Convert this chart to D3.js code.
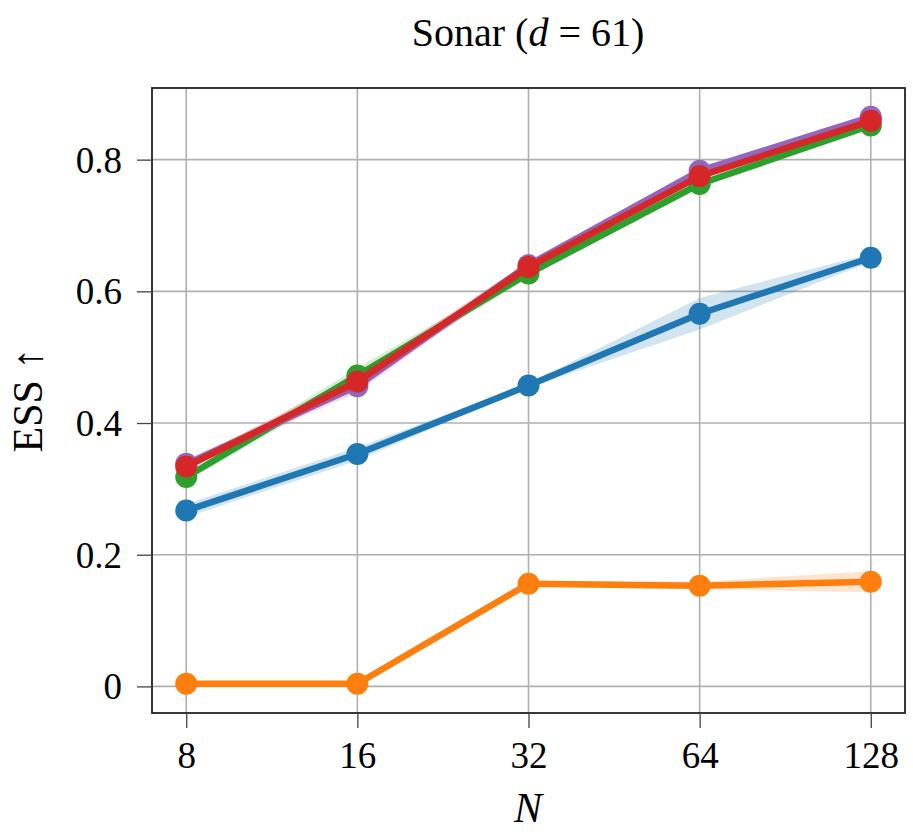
<!DOCTYPE html>
<html>
<head>
<meta charset="utf-8">
<script src="https://cdn.jsdelivr.net/npm/d3@7"></script>
<style>
  body { margin: 0; background: #fff; }
  text { font-family: "Liberation Serif", "DejaVu Serif", serif; fill: #000; }
</style>
</head>
<body>
<div id="chart"></div>
<script>
// data
var Ns = [8, 16, 32, 64, 128];
var seriesNames = ["blue", "orange", "green", "purple", "red"];
var colors = ["#1f77b4", "#ff7f0e", "#2ca02c", "#9467bd", "#d62728"];
var blueVals   = [0.267, 0.353, 0.457, 0.566, 0.651];
var orangeVals = [0.004, 0.004, 0.156, 0.153, 0.159];
var greenVals  = [0.318, 0.472, 0.627, 0.763, 0.852];
var purpleVals = [0.338, 0.456, 0.640, 0.783, 0.865];
var redVals    = [0.334, 0.463, 0.637, 0.775, 0.859];
// half-width of shaded band
var blueErr   = [0.010, 0.010, 0.003, 0.024, 0.006];
var orangeErr = [0.003, 0.003, 0.004, 0.006, 0.016];
var greenErr  = [0.006, 0.012, 0.006, 0.005, 0.004];
var purpleErr = [0.006, 0.010, 0.006, 0.005, 0.004];
var redErr    = [0.006, 0.010, 0.008, 0.005, 0.004];
var yTicks = [0, 0.2, 0.4, 0.6, 0.8];

var allVals = [blueVals, orangeVals, greenVals, purpleVals, redVals];
var allErr = [blueErr, orangeErr, greenErr, purpleErr, redErr];

var width = 913, height = 834;
// plot box (window.top is reserved, so prefixed names)
var pLeft = 152, pTop = 88, pRight = 905, pBottom = 713;

var svg = d3.select("#chart").append("svg")
    .attr("width", width)
    .attr("height", height);

var x = d3.scaleLog().base(2)
    .domain([Math.pow(2, 2.8), Math.pow(2, 7.2)])
    .range([pLeft, pRight]);
var y = d3.scaleLinear()
    .domain([-0.0404, 0.9088])
    .range([pBottom, pTop]);

// grid
var grid = svg.append("g").attr("stroke", "#b0b0b0").attr("stroke-width", 1.6);
grid.selectAll(".vx").data(Ns).enter().append("line")
    .attr("x1", d => x(d)).attr("x2", d => x(d))
    .attr("y1", pTop).attr("y2", pBottom);
grid.selectAll(".hy").data(yTicks).enter().append("line")
    .attr("y1", d => y(d)).attr("y2", d => y(d))
    .attr("x1", pLeft).attr("x2", pRight);

var line = d3.line().x(d => x(d.n)).y(d => y(d.v));
var area = d3.area().x(d => x(d.n)).y0(d => y(d.v - d.e)).y1(d => y(d.v + d.e));

var plot = svg.append("g");
for (var s = 0; s < allVals.length; s++) {
    var pts = Ns.map(function (n, i) { return {n: n, v: allVals[s][i], e: allErr[s][i]}; });
    plot.append("path").datum(pts)
        .attr("d", area)
        .attr("fill", colors[s])
        .attr("fill-opacity", 0.2);
    plot.append("path").datum(pts)
        .attr("d", line)
        .attr("fill", "none")
        .attr("stroke", colors[s])
        .attr("stroke-width", 6.5)
        .attr("stroke-linejoin", "round");
    plot.selectAll(".m" + s).data(pts).enter().append("circle")
        .attr("cx", d => x(d.n))
        .attr("cy", d => y(d.v))
        .attr("r", 11)
        .attr("fill", colors[s]);
}

// frame
svg.append("rect")
    .attr("x", pLeft).attr("y", pTop)
    .attr("width", pRight - pLeft).attr("height", pBottom - pTop)
    .attr("fill", "none").attr("stroke", "#222").attr("stroke-width", 1.8);

// axes
var xAxis = d3.axisBottom(x).tickValues(Ns).tickFormat(d3.format("d")).tickSize(15).tickPadding(14);
var gx = svg.append("g").attr("transform", "translate(0," + pBottom + ")").call(xAxis);
var yAxis = d3.axisLeft(y).tickValues(yTicks).tickFormat(d => d === 0 ? "0" : d.toFixed(1)).tickSize(15).tickPadding(15);
var gy = svg.append("g").attr("transform", "translate(" + pLeft + ",0)").call(yAxis);
[gx, gy].forEach(function (g) {
    g.select(".domain").remove();
    g.selectAll(".tick line").attr("stroke", "#444").attr("stroke-width", 1.3);
    g.selectAll(".tick text").style("font-size", "37px").style("font-family", "'Liberation Serif', serif");
});
gx.selectAll(".tick text").attr("dy", "0.71em");
gy.selectAll(".tick text").attr("dy", "0.34em");

// title and labels
svg.append("text")
    .attr("x", 528).attr("y", 46)
    .attr("text-anchor", "middle")
    .style("font-size", "40px")
    .html('Sonar (<tspan font-style="italic">d</tspan> = 61)');

svg.append("text")
    .attr("x", 528).attr("y", 822)
    .attr("text-anchor", "middle")
    .style("font-size", "42px")
    .style("font-style", "italic")
    .text("N");

svg.append("text")
    .attr("transform", "translate(42," + ((pTop + pBottom) / 2) + ") rotate(-90)")
    .attr("text-anchor", "middle")
    .style("font-size", "42px")
    .text("ESS \u2191");
</script>
</body>
</html>
